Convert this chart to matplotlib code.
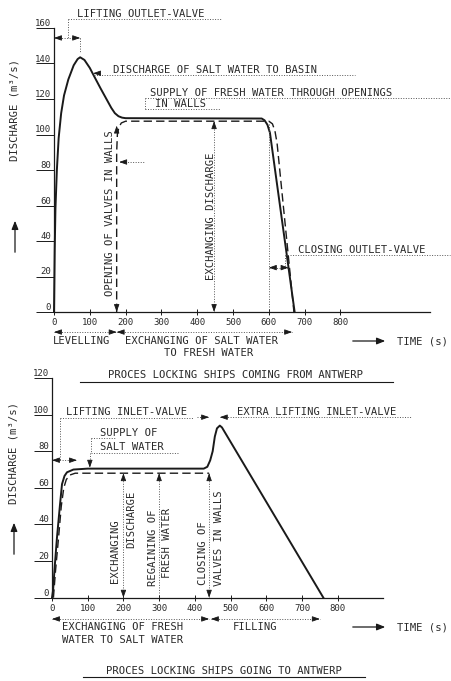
import matplotlib
matplotlib.use('Agg')
import matplotlib.pyplot as plt
from matplotlib.lines import Line2D

# --- data ---
# upper chart: ships coming from Antwerp
t_salt_out = [0, 2, 4, 8, 13, 20, 28, 40, 55, 66, 73, 85, 100, 109, 130, 148, 160, 170, 180, 190, 200,
              580, 588, 596, 603, 672]
q_salt_out = [0, 35, 58, 80, 98, 112, 122, 131, 139, 142.5, 143.5, 142, 137.5, 134, 126, 119.4, 115, 112,
              110.3, 109.5, 109.2, 109, 108, 105.5, 101, 0]
t_exch_top = [175, 175, 177, 181, 188, 200, 600, 610, 617, 623, 670]
q_exch_top = [0, 90, 100, 104, 106.5, 107.5, 107.5, 106, 102, 95, 0]

# lower chart: ships going to Antwerp
t_salt_in = [0, 3, 8, 14, 22, 28, 35, 42, 60, 100, 425, 435, 443, 450, 456, 462, 470, 476, 760]
q_salt_in = [0, 4, 18, 33, 50, 62, 66.5, 68.5, 70, 70.5, 70.5, 71.5, 75, 80, 88, 92.5, 94, 93, 0]
t_exch_bot = [4, 10, 18, 26, 33, 40, 50, 65, 440]
q_exch_bot = [0, 15, 32, 50, 60, 64.5, 67, 68, 68]

x_ticks = [0, 100, 200, 300, 400, 500, 600, 700, 800]
y_ticks_top = [0, 20, 40, 60, 80, 100, 120, 140, 160]
y_ticks_bot = [0, 20, 40, 60, 80, 100, 120]

W, H = 452, 681
ink = '#1a1a1a'
txt = '#2a2a2a'
dot = '#555555'
FONT = 'DejaVu Sans Mono'
plt.rcParams['font.family'] = FONT

fig = plt.figure(figsize=(W / 100, H / 100), dpi=100)
fig.patch.set_facecolor('white')


def ftext(x, y, s, **kw):
    kw.setdefault('ha', 'left')
    kw.setdefault('va', 'center')
    kw.setdefault('fontsize', 7.6)
    kw.setdefault('color', txt)
    fig.text(x / W, 1 - y / H, s, **kw)


def fline(xs, ys, **kw):
    fig.add_artist(Line2D([x / W for x in xs], [1 - y / H for y in ys],
                          transform=fig.transFigure, **kw))


def farrow(x0, y0, x1, y1):
    fig.add_artist(matplotlib.patches.FancyArrowPatch(
        (x0 / W, 1 - y0 / H), (x1 / W, 1 - y1 / H), transform=fig.transFigure,
        arrowstyle='-|>,head_length=5,head_width=2', color=ink, lw=0.9))


def dotted(ax, xs, ys):
    ax.plot(xs, ys, ls=(0, (1, 1.6)), lw=0.7, color=dot, clip_on=False)


def head(ax, xy, d):
    off = {'r': (-5, 0), 'l': (5, 0), 'u': (0, -5), 'd': (0, 5)}[d]
    ax.annotate('', xy=xy, xytext=off, textcoords='offset points', annotation_clip=False,
                arrowprops=dict(arrowstyle='-|>,head_length=0.45,head_width=0.16',
                                color=ink, lw=0.6, shrinkA=0, shrinkB=0))


def style_axes(ax, yt):
    for s in ['top', 'right']:
        ax.spines[s].set_visible(False)
    for s in ['left', 'bottom']:
        ax.spines[s].set_color(ink)
        ax.spines[s].set_linewidth(0.9)
    ax.set_xticks(x_ticks)
    ax.set_yticks(yt)
    ax.tick_params(axis='x', direction='inout', length=5, width=0.7, pad=2,
                   labelsize=6.5, colors=ink, labelcolor=txt)
    ax.tick_params(axis='y', direction='out', length=13, width=0.7, pad=-11,
                   labelsize=6.5, colors=ink, labelcolor=txt)
    for lbl in ax.get_yticklabels():
        lbl.set_va('bottom')
    ax.patch.set_alpha(0)


# ---------------- upper chart ----------------
ax1 = fig.add_axes([54 / W, 1 - 312 / H, 376 / W, 284 / H])
ax1.set_xlim(0, 1050)
ax1.set_ylim(0, 160)
style_axes(ax1, y_ticks_top)
ax1.plot(t_salt_out, q_salt_out, color=ink, lw=1.4, clip_on=False)
ax1.plot(t_exch_top, q_exch_top, color=ink, lw=1.0, ls=(0, (6, 3)), clip_on=False)

# lifting outlet-valve
dotted(ax1, [39, 469], [165, 165])
dotted(ax1, [39, 39], [165, 154.4])
dotted(ax1, [0, 73], [154.4, 154.4])
dotted(ax1, [73, 73], [154.4, 146])
head(ax1, (0, 154.4), 'l')
head(ax1, (73, 154.4), 'r')
ftext(77, 14, 'LIFTING OUTLET-VALVE')

# discharge of salt water
dotted(ax1, [112, 841], [133.5, 133.5])
head(ax1, (109, 134.5), 'l')
ftext(113, 70, 'DISCHARGE OF SALT WATER TO BASIN')

# supply of fresh water
dotted(ax1, [254, 1106], [120.6, 120.6])
dotted(ax1, [254, 464], [114.4, 114.4])
dotted(ax1, [254, 254], [114.4, 120.6])
ftext(150, 93, 'SUPPLY OF FRESH WATER THROUGH OPENINGS')
ftext(155, 104, 'IN WALLS')

# opening of valves in walls
head(ax1, (175, 105), 'u')
head(ax1, (175, 0), 'd')
dotted(ax1, [185, 254], [84.5, 84.5])
head(ax1, (182, 84.5), 'l')
ftext(110, 213, 'OPENING OF VALVES IN WALLS', rotation=90, ha='center')

# exchanging discharge
dotted(ax1, [447, 447], [0, 107.5])
head(ax1, (447, 107.5), 'u')
head(ax1, (447, 0), 'd')
ftext(211, 216, 'EXCHANGING DISCHARGE', rotation=90, ha='center')

# closing outlet-valve
dotted(ax1, [600, 600], [0, 106])
dotted(ax1, [645, 1106], [32, 32])
dotted(ax1, [645, 645], [32, 25])
dotted(ax1, [600, 655], [25, 25])
head(ax1, (600, 25), 'l')
head(ax1, (655, 25), 'r')
ftext(298, 250, 'CLOSING OUTLET-VALVE')

# phases below the time axis
dotted(ax1, [0, 175], [-11.3, -11.3])
dotted(ax1, [175, 665], [-11.3, -11.3])
head(ax1, (0, -11.3), 'l')
head(ax1, (175, -11.3), 'r')
head(ax1, (175, -11.3), 'l')
head(ax1, (665, -11.3), 'r')
ftext(53, 341, 'LEVELLING')
ftext(125, 341, 'EXCHANGING OF SALT WATER')
ftext(209, 353, 'TO FRESH WATER', ha='center')
farrow(350, 341, 388, 341)
ftext(397, 341, 'TIME (s)')

ftext(15, 110, 'DISCHARGE (m³/s)', rotation=90, ha='center')
farrow(15, 255, 15, 218)

ftext(236, 375, 'PROCES LOCKING SHIPS COMING FROM ANTWERP', ha='center')
fline([80, 393], [382, 382], color=ink, lw=0.8)

# ---------------- lower chart ----------------
ax2 = fig.add_axes([52 / W, 1 - 597.7 / H, 331 / W, 219.7 / H])
ax2.set_xlim(0, 927)
ax2.set_ylim(0, 120)
style_axes(ax2, y_ticks_bot)
ax2.plot(t_salt_in, q_salt_in, color=ink, lw=1.4, clip_on=False)
ax2.plot(t_exch_bot, q_exch_bot, color=ink, lw=1.0, ls=(0, (6, 3)), clip_on=False)

# lifting inlet-valve
dotted(ax2, [22, 395], [98.1, 98.1])
dotted(ax2, [22, 22], [98.1, 75.1])
dotted(ax2, [0, 70], [75.1, 75.1])
head(ax2, (0, 75.1), 'l')
head(ax2, (70, 75.1), 'r')
ftext(66, 412, 'LIFTING INLET-VALVE')

# supply of salt water
dotted(ax2, [109, 109], [87.1, 78.9])
dotted(ax2, [109, 176], [87.1, 87.1])
dotted(ax2, [109, 353], [78.9, 78.9])
dotted(ax2, [106, 106], [78.9, 73])
head(ax2, (106, 71), 'd')
ftext(100, 433, 'SUPPLY OF')
ftext(100, 447, 'SALT WATER')

# extra lifting inlet-valve
dotted(ax2, [405, 440], [98.6, 98.6])
dotted(ax2, [470, 1008], [98.6, 98.6])
head(ax2, (440, 98.6), 'r')
head(ax2, (470, 98.6), 'l')
ftext(237, 412, 'EXTRA LIFTING INLET-VALVE')

# vertical markers
dotted(ax2, [200, 200], [0, 68])
head(ax2, (200, 68), 'u')
head(ax2, (200, 0), 'd')
ftext(115, 551, 'EXCHANGING', rotation=90, ha='center')
ftext(131, 519, 'DISCHARGE', rotation=90, ha='center')

dotted(ax2, [300, 300], [0, 68])
head(ax2, (300, 68), 'u')
ftext(153, 548, 'REGAINING OF', rotation=90, ha='center')
ftext(167, 543, 'FRESH WATER', rotation=90, ha='center')

dotted(ax2, [440, 440], [0, 68])
head(ax2, (440, 68), 'u')
head(ax2, (440, 0), 'd')
ftext(203, 553, 'CLOSING OF', rotation=90, ha='center')
ftext(219, 538, 'VALVES IN WALLS', rotation=90, ha='center')

# phases below the time axis
dotted(ax2, [0, 440], [-11.6, -11.6])
dotted(ax2, [445, 750], [-11.6, -11.6])
head(ax2, (0, -11.6), 'l')
head(ax2, (440, -11.6), 'r')
head(ax2, (445, -11.6), 'l')
head(ax2, (750, -11.6), 'r')
ftext(62, 627, 'EXCHANGING OF FRESH')
ftext(62, 640, 'WATER TO SALT WATER')
ftext(233, 627, 'FILLING')
farrow(350, 627, 388, 627)
ftext(397, 627, 'TIME (s)')

ftext(14, 453, 'DISCHARGE (m³/s)', rotation=90, ha='center')
farrow(14, 557, 14, 520)

ftext(224, 671, 'PROCES LOCKING SHIPS GOING TO ANTWERP', ha='center')
fline([83, 365], [677, 677], color=ink, lw=0.8)

fig.savefig('out.png', dpi=100, facecolor='white')
